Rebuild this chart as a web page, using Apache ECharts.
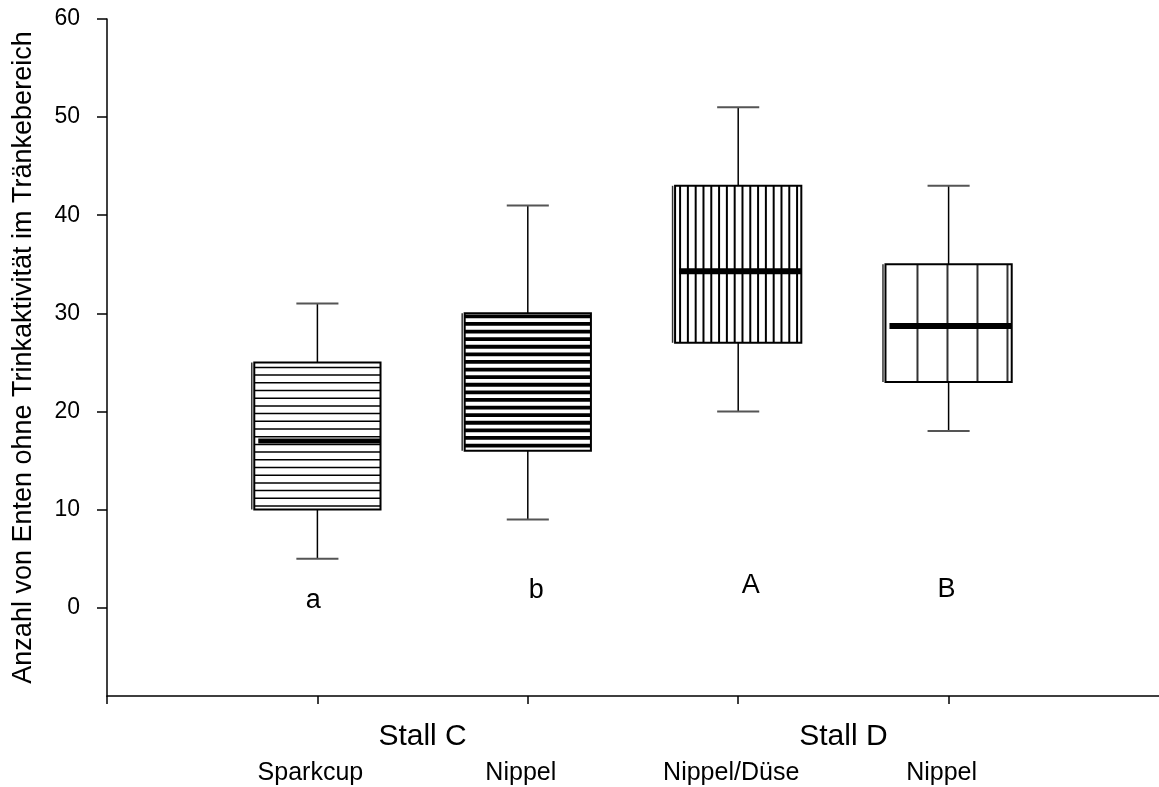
<!DOCTYPE html>
<html><head><meta charset="utf-8">
<script src="https://cdn.jsdelivr.net/npm/echarts@6/dist/echarts.min.js"></script>
<style>html,body{margin:0;padding:0;background:#fff}#c{width:1159px;height:787px}</style>
</head><body><div id="c"></div>
<script>
// ---- data ----
const positions = [1, 2, 3, 4];
const subLabels = ['Sparkcup', 'Nippel', 'Nippel/Düse', 'Nippel'];
const groupLabels = ['Stall C', 'Stall D'];
const groupCenters = [1.5, 3.5];
const whiskerLow = [5, 9, 20, 18];
const q1 = [10, 16, 27, 23];
const median = [17, 22.7, 34.3, 28.7];
const q3 = [25, 30, 43, 35];
const whiskerHigh = [31, 41, 51, 43];
const sigLetters = ['a', 'b', 'A', 'B'];
const letterX = [0.98, 2.04, 3.06, 3.99];
const letterY = [0.7, 1.7, 2.3, 1.9];
const yTicks = [0, 10, 20, 30, 40, 50, 60];
const xTicks = [0, 1, 2, 3, 4];
const yTitle = 'Anzahl von Enten ohne Trinkaktivität im Tränkebereich';

// ---- styles ----
const FONT = "'Liberation Sans', Arial, Helvetica, sans-serif";
const hatchStyles = [
  { dir: 'h', step: 7.7, offset: 5, width: 1.5, color: '#000', medianWidth: 5 },
  { dir: 'h', step: 7.6, offset: 3, width: 3.8, color: '#000', medianWidth: 2 },
  { dir: 'v', step: 7.8, offset: 5, width: 2, color: '#000', medianWidth: 6 },
  { dir: 'v', step: 30, offset: 32, width: 2, color: '#333', medianWidth: 6 }
];
const BOX_HALF = 0.3, CAP_HALF = 0.1;

const boxData = positions.map((p, i) => [p, whiskerLow[i], q1[i], median[i], q3[i], whiskerHigh[i]]);
const letterData = letterX.map((x, i) => [x, letterY[i]]);

const chart = echarts.init(document.getElementById('c'));
chart.setOption({
  animation: false,
  backgroundColor: '#fff',
  grid: { left: 107, right: 0, top: 19, bottom: 91 },
  xAxis: [{
    type: 'value', min: 0, max: 5, position: 'bottom',
    axisLine: { show: true, onZero: false, lineStyle: { color: '#000', width: 1.5 } },
    axisTick: { show: true, length: 8, customValues: xTicks, lineStyle: { color: '#000', width: 1.5 } },
    axisLabel: {
      customValues: positions,
      formatter: v => subLabels[positions.indexOf(v)] || '',
      fontSize: 25, fontFamily: FONT, color: '#000', margin: 65, padding: [0, 14, 0, 0]
    },
    splitLine: { show: false }
  }, {
    type: 'value', min: 0, max: 5, position: 'bottom',
    axisLine: { show: false, onZero: false }, axisTick: { show: false },
    axisLabel: {
      customValues: groupCenters,
      formatter: v => groupLabels[groupCenters.indexOf(v)] || '',
      fontSize: 30, fontFamily: FONT, color: '#000', margin: 26
    },
    splitLine: { show: false }
  }],
  yAxis: {
    type: 'value', min: -9, max: 60,
    name: yTitle, nameLocation: 'middle', nameGap: 70,
    nameTextStyle: { fontSize: 27, fontFamily: FONT, color: '#000' },
    axisLine: { show: true, onZero: false, lineStyle: { color: '#000', width: 1.5 } },
    axisTick: { show: true, length: 10, customValues: yTicks, lineStyle: { color: '#000', width: 1.5 } },
    axisLabel: { customValues: yTicks, fontSize: 23, fontFamily: FONT, color: '#000', margin: 27 },
    splitLine: { show: false }
  },
  series: [{
    type: 'custom',
    xAxisIndex: 0,
    data: boxData,
    renderItem: function (params, api) {
      const i = params.dataIndex;
      const x = api.value(0);
      const pMin = api.coord([x, api.value(1)]);
      const pQ1 = api.coord([x, api.value(2)]);
      const pMed = api.coord([x, api.value(3)]);
      const pQ3 = api.coord([x, api.value(4)]);
      const pMax = api.coord([x, api.value(5)]);
      const left = api.coord([x - BOX_HALF, 0])[0];
      const right = api.coord([x + BOX_HALF, 0])[0];
      const capL = api.coord([x - CAP_HALF, 0])[0];
      const capR = api.coord([x + CAP_HALF, 0])[0];
      const top = pQ3[1], bottom = pQ1[1];
      const h = hatchStyles[i];
      const ch = [];
      const line = (x1, y1, x2, y2, w, c) => ch.push({ type: 'line', shape: { x1, y1, x2, y2 }, style: { stroke: c, lineWidth: w } });
      line(pMax[0], pMax[1], pQ3[0], top, 1.5, '#000');
      line(pQ1[0], bottom, pMin[0], pMin[1], 1.5, '#000');
      line(capL, pMax[1], capR, pMax[1], 2, '#555');
      line(capL, pMin[1], capR, pMin[1], 2, '#555');
      ch.push({ type: 'rect', shape: { x: left, y: top, width: right - left, height: bottom - top }, style: { fill: '#fff', stroke: null } });
      if (h.dir === 'h') {
        for (let y = top + h.offset; y < bottom - 1.5; y += h.step) line(left, y, right, y, h.width, h.color);
      } else {
        for (let xx = left + h.offset; xx < right - 1.5; xx += h.step) line(xx, top, xx, bottom, h.width, h.color);
      }
      ch.push({ type: 'rect', shape: { x: left, y: top, width: right - left, height: bottom - top }, style: { fill: null, stroke: '#000', lineWidth: 2 } });
      line(left - 2.5, top, left - 2.5, bottom, 1.5, '#333');
      line(left + 4, pMed[1], right, pMed[1], h.medianWidth, '#000');
      return { type: 'group', children: ch };
    }
  }, {
    type: 'custom',
    xAxisIndex: 0,
    data: letterData,
    renderItem: function (params, api) {
      const p = api.coord([api.value(0), api.value(1)]);
      return {
        type: 'text', x: p[0], y: p[1],
        style: { text: sigLetters[params.dataIndex], fontSize: 27, fontFamily: FONT, fill: '#000', align: 'center', verticalAlign: 'middle' }
      };
    }
  }]
});
</script></body></html>
